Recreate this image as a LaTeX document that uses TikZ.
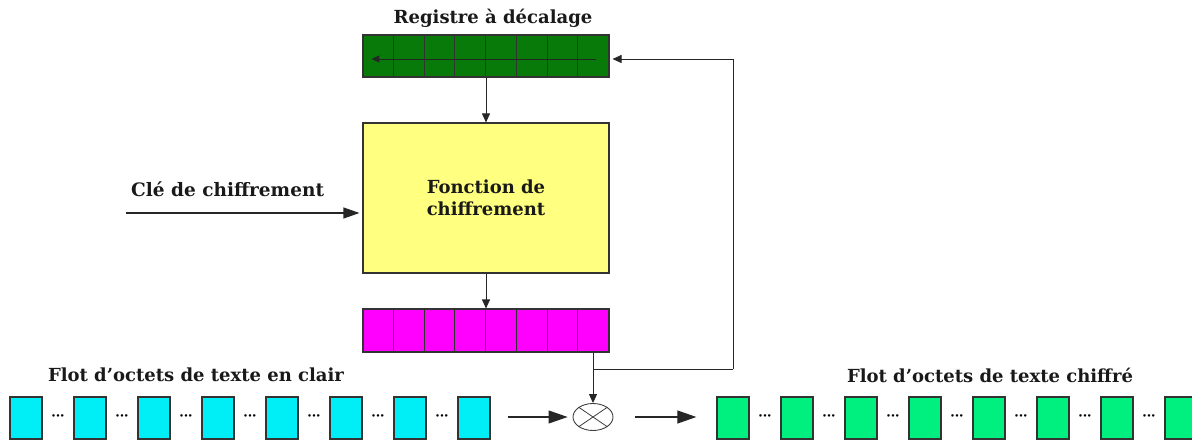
\documentclass[tikz,border=0pt]{standalone}
\usepackage{fontspec}
\setmainfont{DejaVu Serif}
\usetikzlibrary{arrows.meta,shapes.geometric,calc}
\definecolor{regGreen}{RGB}{8,122,10}
\definecolor{encYellow}{RGB}{255,255,128}
\definecolor{outMag}{RGB}{255,0,255}
\definecolor{plainCyan}{RGB}{0,238,246}
\definecolor{ciphGreen}{RGB}{0,240,128}
\begin{document}
\begin{tikzpicture}[x=1pt,y=-1pt,
  lbl/.style={font=\fontsize{18}{21}\selectfont\bfseries, text=black!90, inner sep=0pt},
  regbox/.style={draw=black!80, line width=1.1pt, minimum width=246pt, minimum height=42pt, inner sep=0pt},
  cellbox/.style={draw=black!80, line width=1.3pt, minimum width=32pt, minimum height=42pt, inner sep=0pt},
  dotsnode/.style={font=\fontsize{7}{7}\selectfont\bfseries, inner sep=0pt},
  conn/.style={line width=0.9pt, draw=black!85},
  smallarr/.style={conn, -{Triangle[length=9pt,width=8pt]}},
  bigarr/.style={conn, line width=1.1pt, -{Triangle[length=19pt,width=13pt]}}
]
\clip (0,0) rectangle (1192,441);
\useasboundingbox (0,0) rectangle (1192,441);

% shift register
\node[lbl] (regt) at (493,18) {Registre à décalage};
\node[regbox, fill=regGreen] (reg) at (486,56) {};
\foreach \i in {1,...,7} {
  \draw[line width=0.9pt, black!80] ($(reg.north west)+(30.75*\i,0)$) -- ($(reg.south west)+(30.75*\i,0)$);
}
\draw[conn, -{Triangle[length=8pt,width=7pt]}] ($(reg.east)+(-14,3)$) -- ($(reg.west)+(9,3)$);

% encryption function
\node[regbox, fill=encYellow, minimum height=150pt, align=center, lbl, font=\fontsize{18}{22}\selectfont\bfseries] (enc) at (486,198) {Fonction de\\chiffrement};

% output register
\node[regbox, fill=outMag, minimum height=43pt] (out) at (486,330.5) {};
\foreach \i in {1,...,7} {
  \draw[line width=0.9pt, black!80] ($(out.north west)+(30.75*\i,0)$) -- ($(out.south west)+(30.75*\i,0)$);
}

\draw[smallarr] (reg.south) -- (enc.north);
\draw[smallarr] (enc.south) -- (out.north);

% key
\node[lbl, anchor=west, font=\fontsize{18.5}{21}\selectfont\bfseries] (keyt) at (131,189) {Clé de chiffrement};
\coordinate (keyin) at (126,213);
\draw[bigarr, -{Triangle[length=16pt,width=11pt]}, shorten >=3pt] (keyin) -- (keyin -| enc.west);

% xor
\node[ellipse, draw=black!75, line width=0.9pt, fill=white, minimum width=40pt, minimum height=27pt, inner sep=0pt] (xor) at (593,417) {};
\draw[line width=0.8pt, black!75] (xor.north west) -- (xor.south east);
\draw[line width=0.8pt, black!75] (xor.north east) -- (xor.south west);

\coordinate (tap) at (593,369);
\coordinate (fbc) at (733,369);
\draw[smallarr] (xor.north |- out.south) -- (xor.north);
\draw[conn] (tap) -- (fbc);
\draw[smallarr, shorten >=3pt] (fbc) |- ($(reg.east)+(0,3)$);

% plaintext stream
\node[lbl] (plt) at (196,375) {Flot d'octets de texte en clair};
\foreach \i in {1,...,8} {
  \node[cellbox, fill=plainCyan] (p\i) at ({26+64*(\i-1)},418) {};
}
\foreach \i in {1,...,7} {
  \node[dotsnode] (pd\i) at ({58+64*(\i-1)},417) {•••};
}
\draw[bigarr, shorten >=5pt] ($(p8.east)+(17,-1)$) -- (xor.west);

% ciphertext stream
\node[lbl] (ctt) at (990,375) {Flot d'octets de texte chiffré};
\foreach \i in {1,...,8} {
  \node[cellbox, fill=ciphGreen] (c\i) at ({733+64*(\i-1)},418) {};
}
\foreach \i in {1,...,7} {
  \node[dotsnode] (cd\i) at ({765+64*(\i-1)},417) {•••};
}
\draw[bigarr] ($(xor.east)+(22,0)$) -- ($(c1.west)+(-20,-1)$);
\end{tikzpicture}
\end{document}
